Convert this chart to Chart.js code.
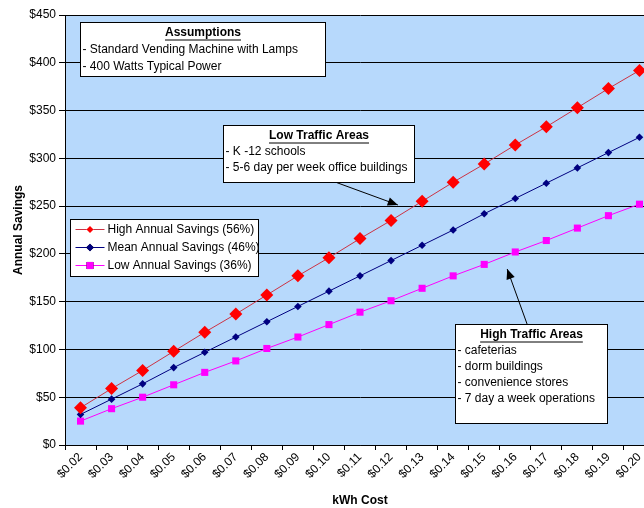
<!DOCTYPE html>
<html>
<head>
<meta charset="utf-8">
<script src="https://cdn.jsdelivr.net/npm/chart.js@4.4.0/dist/chart.umd.min.js"></script>
<style>
body{margin:0;background:#fff;overflow:hidden;}
#wrap{width:664px;height:508px;}
</style>
</head>
<body>
<div id="wrap"><canvas id="savings-chart"></canvas></div>
<script>
const kwhCost=['$0.02','$0.03','$0.04','$0.05','$0.06','$0.07','$0.08','$0.09','$0.10','$0.11','$0.12','$0.13','$0.14','$0.15','$0.16','$0.17','$0.18','$0.19','$0.20'];
const highSavings=[39,59,78,98,118,137,157,177,196,216,235,255,275,294,314,333,353,373,392];
const meanSavings=[32,48,64,81,97,113,129,145,161,177,193,209,225,242,258,274,290,306,322];
const lowSavings=[25,38,50,63,76,88,101,113,126,139,151,164,177,189,202,214,227,240,252];
const seriesNames=['High Annual Savings (56%)','Mean Annual Savings (46%)','Low Annual Savings (36%)'];

const assumptionLines=['- Standard Vending Machine with Lamps','- 400 Watts Typical Power'];
const lowTrafficLines=['- K -12 schools','- 5-6 day per week office buildings'];
const highTrafficLines=['- cafeterias','- dorm buildings','- convenience stores','- 7 day a week operations'];

const FONT='Arial, "Liberation Sans", sans-serif';

// text boxes, placed in data units (category index, $)
const notes=[
    {title:'Assumptions',lines:assumptionLines,x0:-0.02,x1:7.87,y0:442.7,y1:386,gap:17},
    {title:'Low Traffic Areas',lines:lowTrafficLines,x0:4.58,x1:10.74,y0:334.9,y1:275.2,gap:16,
        arrow:{from:[8.2,275.2],to:[10.22,251.2]}},
    {title:'High Traffic Areas',lines:highTrafficLines,x0:12.06,x1:16.96,y0:126.6,y1:23,gap:16,
        arrow:{from:[14.38,126.6],to:[13.74,184.2]}}
];

const drawArrow=(ctx,x1,y1,x2,y2)=>{
    ctx.save();
    ctx.strokeStyle='#000';
    ctx.fillStyle='#000';
    ctx.lineWidth=1;
    ctx.beginPath();
    ctx.moveTo(x1,y1);
    ctx.lineTo(x2,y2);
    ctx.stroke();
    const a=Math.atan2(y2-y1,x2-x1);
    const len=11,w=0.4;
    ctx.beginPath();
    ctx.moveTo(x2,y2);
    ctx.lineTo(x2-len*Math.cos(a-w),y2-len*Math.sin(a-w));
    ctx.lineTo(x2-len*Math.cos(a+w),y2-len*Math.sin(a+w));
    ctx.closePath();
    ctx.fill();
    ctx.restore();
}

const plotBackground={
    id:'plotBackground',
    beforeDraw:(chart)=>{
        const {ctx,chartArea}=chart;
        ctx.save();
        ctx.fillStyle='#b7d9fc';
        ctx.fillRect(chartArea.left,chartArea.top,chartArea.right-chartArea.left,chartArea.bottom-chartArea.top);
        ctx.restore();
    }
}

const noteBoxes={
    id:'noteBoxes',
    afterDraw:(chart)=>{
        const ctx=chart.ctx;
        const xs=chart.scales.x,ys=chart.scales.y;
        const px=(i)=>xs.getPixelForValue(i);
        const py=(v)=>ys.getPixelForValue(v);

        notes.forEach((n)=>{
            if(n.arrow){
                drawArrow(ctx,px(n.arrow.from[0]),py(n.arrow.from[1]),px(n.arrow.to[0]),py(n.arrow.to[1]));
            }
            const l=Math.round(px(n.x0))+0.5,r=Math.round(px(n.x1))+0.5;
            const t=Math.round(py(n.y0))+0.5,b=Math.round(py(n.y1))+0.5;
            ctx.save();
            ctx.fillStyle='#fff';
            ctx.fillRect(l,t,r-l,b-t);
            ctx.strokeStyle='#000';
            ctx.lineWidth=1;
            ctx.strokeRect(l,t,r-l,b-t);

            ctx.fillStyle='#000';
            ctx.textBaseline='middle';
            ctx.font='bold 12px '+FONT;
            ctx.textAlign='center';
            const cx=(l+r)/2,ty=t+10;
            ctx.fillText(n.title,cx,ty);
            const tw=ctx.measureText(n.title).width;
            ctx.beginPath();
            ctx.moveTo(cx-tw/2,ty+7.5);
            ctx.lineTo(cx+tw/2,ty+7.5);
            ctx.stroke();

            ctx.font='12px '+FONT;
            ctx.textAlign='left';
            n.lines.forEach((line,k)=>{
                ctx.fillText(line,l+2,ty+n.gap*(k+1));
            });
            ctx.restore();
        });

        // legend box inside the plot
        const l=Math.round(px(-0.34))+0.5,r=Math.round(px(5.72))+0.5;
        const t=Math.round(py(236.5))+0.5,b=Math.round(py(176.9))+0.5;
        ctx.save();
        ctx.fillStyle='#fff';
        ctx.fillRect(l,t,r-l,b-t);
        ctx.strokeStyle='#000';
        ctx.strokeRect(l,t,r-l,b-t);
        chart.data.datasets.forEach((ds,k)=>{
            const y=t+10+k*18;
            ctx.strokeStyle=ds.borderColor;
            ctx.lineWidth=1;
            ctx.beginPath();
            ctx.moveTo(l+5,y);
            ctx.lineTo(l+34,y);
            ctx.stroke();
            Chart.helpers.drawPoint(ctx,{pointStyle:ds.pointStyle,radius:ds.legendRadius,borderWidth:0},l+19.5,y);
            ctx.fillStyle=ds.pointBackgroundColor;
            ctx.fill();
            ctx.fillStyle='#000';
            ctx.font='12px '+FONT;
            ctx.textBaseline='middle';
            ctx.fillText(ds.label,l+37,y);
        });
        ctx.restore();
    }
}

const ctx=document.getElementById('savings-chart').getContext('2d');
const savingsChart=new Chart(ctx,{
    type:'line',
    data:{
        labels:kwhCost,
        datasets:[
            {label:seriesNames[0],data:highSavings,borderColor:'#cc3344',borderWidth:1,
                pointStyle:'rectRot',pointRadius:6.5,pointBackgroundColor:'#ff0000',pointBorderWidth:0,legendRadius:3.5},
            {label:seriesNames[1],data:meanSavings,borderColor:'#000080',borderWidth:1,
                pointStyle:'rectRot',pointRadius:3.8,pointBackgroundColor:'#000080',pointBorderWidth:0,legendRadius:3.8},
            {label:seriesNames[2],data:lowSavings,borderColor:'#ff00ff',borderWidth:1,
                pointStyle:'rect',pointRadius:5,pointBackgroundColor:'#ff00ff',pointBorderWidth:0,legendRadius:5}
        ]
    },
    options:{
        responsive:true,
        maintainAspectRatio:false,
        animation:false,
        layout:{padding:{top:15,right:9,left:11,bottom:0}},
        plugins:{legend:{display:false},tooltip:{enabled:false}},
        elements:{line:{tension:0}},
        scales:{
            x:{
                offset:true,
                grid:{offset:true,drawOnChartArea:false,drawTicks:true,tickLength:5,color:'#000'},
                border:{color:'#000',width:1},
                ticks:{color:'#000',font:{family:FONT,size:12},minRotation:45,maxRotation:45,padding:0,autoSkip:false},
                title:{display:true,text:'kWh Cost',color:'#000',font:{family:FONT,size:12,weight:'bold'},padding:{top:4,bottom:0}},
                afterFit:(scale)=>{scale.height=63;}
            },
            y:{
                min:0,max:450,
                grid:{color:'#000',lineWidth:1,tickLength:6,drawTicks:true},
                border:{color:'#000',width:1},
                ticks:{stepSize:50,color:'#000',font:{family:FONT,size:12},padding:3,callback:(v)=>'$'+v},
                title:{display:true,text:'Annual Savings',color:'#000',font:{family:FONT,size:12,weight:'bold'},padding:{top:0,bottom:4}},
                afterFit:(scale)=>{scale.width=54;}
            }
        }
    },
    plugins:[plotBackground,noteBoxes]
});
</script>
</body>
</html>
